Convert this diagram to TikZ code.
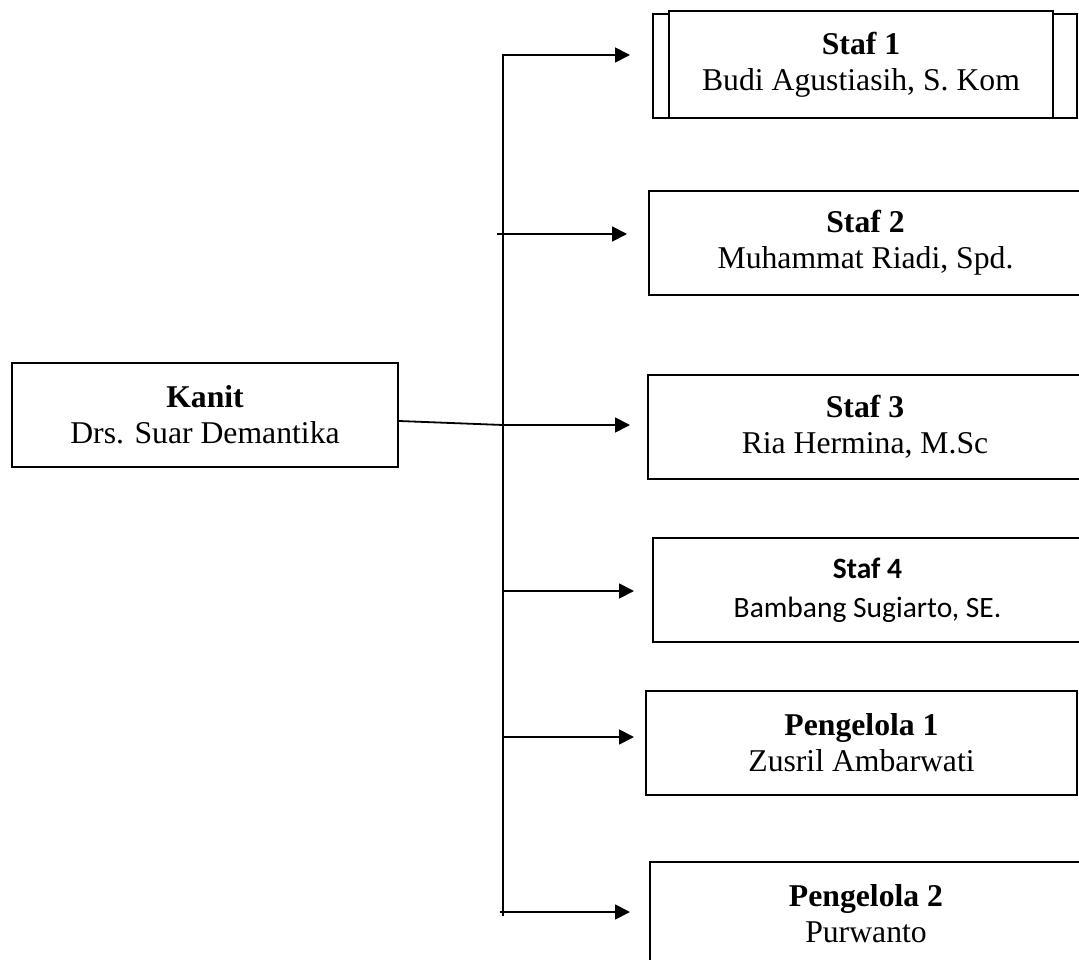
\documentclass[tikz,border=0pt]{standalone}
\usepackage{fontspec}
\setmainfont{Liberation Serif}
\newfontfamily\carlito{Carlito}
\usetikzlibrary{arrows.meta}

\tikzset{
  unitbox/.style={draw,line width=1.8pt,fill=white,align=center,inner sep=0pt,
    minimum height=104pt,font=\fontsize{31.7}{36}\selectfont},
  link/.style={line width=1.8pt},
  feed/.style={line width=1.8pt,-{Triangle[length=15pt,width=15pt]}}
}

\begin{document}
\begin{tikzpicture}[x=1pt,y=-1pt]
\useasboundingbox (0,0) rectangle (1079,960);
\clip (0,0) rectangle (1079,960);
% head of unit
\node[unitbox,minimum width=386pt] (kanit) at (205,415) {\textbf{Kanit}\\Drs. Suar Demantika};
% staff boxes
\draw[link] (653,14) rectangle (1077,118);
\node[unitbox,minimum width=384pt,minimum height=107pt] (staf1) at (861,64.5) {\textbf{Staf 1}\\Budi Agustiasih, S. Kom};
\node[unitbox,minimum width=433pt] (staf2) at (865.5,243) {\textbf{Staf 2}\\Muhammat Riadi, Spd.};
\node[unitbox,minimum width=434pt] (staf3) at (865,427) {\textbf{Staf 3}\\Ria Hermina, M.Sc};
\node[unitbox,minimum width=429pt,font=\carlito\fontsize{29.5}{39}\selectfont] (staf4) at (867.5,590) {\textbf{Staf 4}\\Bambang Sugiarto, SE.};
\node[unitbox,minimum width=431pt] (peng1) at (861.5,743) {\textbf{Pengelola 1}\\Zusril Ambarwati};
\node[unitbox,minimum width=432pt] (peng2) at (866,914) {\textbf{Pengelola 2}\\Purwanto};
% trunk and branch points
\coordinate (top) at (503,55);
\coordinate (bot) at (503,916);
\coordinate (j3) at (503,425);
\coordinate (s2) at (497,234);
\coordinate (s4) at (503,591);
\coordinate (s5) at (503,737);
\coordinate (s6) at (500,912);
% arrow tips
\coordinate (t1) at (630,55);
\coordinate (t2) at (627,234);
\coordinate (t3) at (630,425);
\coordinate (t4) at (634,591);
\coordinate (t5) at (634,737);
\coordinate (t6) at (630,912);
\draw[feed] (bot) -- (top) -- (t1);
\draw[feed] (s2) -- (t2);
\draw[feed] ([yshift=-6pt]kanit.east) -- (j3) -- (t3);
\draw[feed] (s4) -- (t4);
\draw[feed] (s5) -- (t5);
\draw[feed] (s6) -- (t6);
\end{tikzpicture}
\end{document}
